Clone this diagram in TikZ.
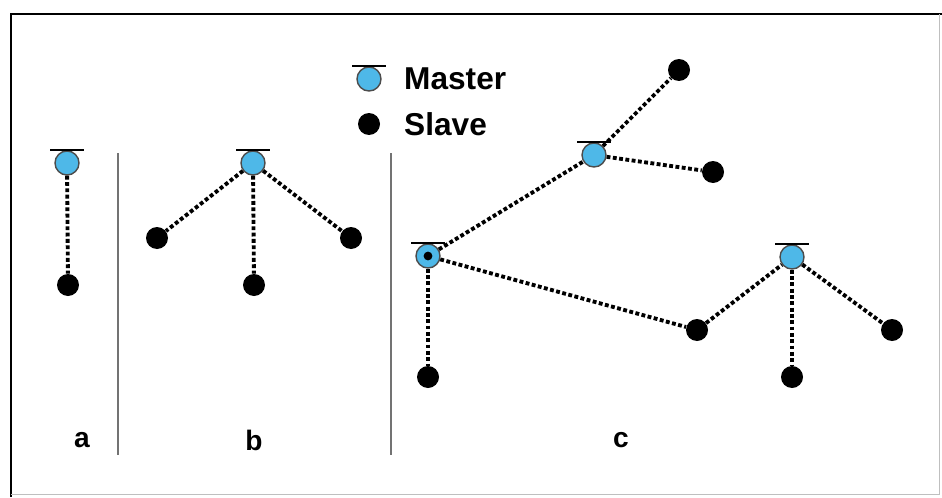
\documentclass[tikz,border=0pt]{standalone}
\usepackage{fontspec}
\setmainfont{Liberation Sans}
\usetikzlibrary{positioning}
\definecolor{masterblue}{RGB}{78,184,232}
\begin{document}
\begin{tikzpicture}[x=0.02cm,y=-0.02cm,
    master/.style={circle,draw=black!70,fill=masterblue,line width=0.8pt,minimum size=0.48cm,inner sep=0pt},
    slave/.style={circle,fill=black,minimum size=0.44cm,inner sep=0pt},
    link/.style={line width=2.2pt,dash pattern=on 2.2pt off 1.4pt},
    bar/.style={line width=1pt},
    tag/.style={font=\bfseries\fontsize{16}{18}\selectfont}]
    \useasboundingbox (0,0) rectangle (942,497);
    \draw[line width=1.6pt] (11,497) -- (11,14) -- (942,14);
    \draw[black!25] (939,14) -- (939,494) -- (11,494);
    % key
    \node[master] (m_key) at (369,79) {};
    \node[slave] (s_key) at (369,124) {};
    \node[anchor=west,font=\bfseries\fontsize{18}{20}\selectfont] (t_master) at (398,79) {Master};
    \node[anchor=west,font=\bfseries\fontsize{18}{20}\selectfont] (t_slave) at (398,124) {Slave};
    % dividers
    \coordinate (d1_top) at (118,153);
    \coordinate (d1_bot) at (118,455);
    \coordinate (d2_top) at (391,153);
    \coordinate (d2_bot) at (391,455);
    \draw[black!55,line width=0.6pt] (d1_top) -- (d1_bot);
    \draw[black!55,line width=0.6pt] (d2_top) -- (d2_bot);
    % a
    \node[master] (m_a) at (67,163) {};
    \node[slave] (s_a) at (68,285) {};
    \draw[link] (m_a) -- (s_a);
    \node[tag] (t_a) at (82,440) {a};
    % b
    \node[master] (m_b) at (253,163) {};
    \node[slave] (s_b1) at (157,238) {};
    \node[slave] (s_b2) at (254,285) {};
    \node[slave] (s_b3) at (351,238) {};
    \foreach \s in {s_b1,s_b2,s_b3} \draw[link] (m_b) -- (\s);
    \node[tag] (t_b) at (254,440) {b};
    % c
    \node[master] (m_c1) at (428,256) {};
    \node[master] (m_c2) at (594,155) {};
    \node[master] (m_c3) at (792,257) {};
    \node[slave] (s_c1) at (428,377) {};
    \node[slave] (s_c2) at (679,70) {};
    \node[slave] (s_c3) at (713,172) {};
    \node[slave] (s_c4) at (697,330) {};
    \node[slave] (s_c5) at (792,377) {};
    \node[slave] (s_c6) at (892,330) {};
    \fill (m_c1) circle (2.5pt);
    \draw[link] (m_c1) -- (m_c2);
    \draw[link] (m_c1) -- (s_c1);
    \draw[link] (m_c1) -- (s_c4);
    \draw[link] (m_c2) -- (s_c2);
    \draw[link] (m_c2) -- (s_c3);
    \draw[link] (s_c4) -- (m_c3);
    \draw[link] (m_c3) -- (s_c5);
    \draw[link] (m_c3) -- (s_c6);
    \node[tag] (t_c) at (621,440) {c};
    % bars over the masters
    \foreach \m in {m_key,m_a,m_b,m_c1,m_c2,m_c3}
        \draw[bar] ([xshift=-0.34cm]\m.north) -- ([xshift=0.34cm]\m.north);
\end{tikzpicture}
\end{document}
